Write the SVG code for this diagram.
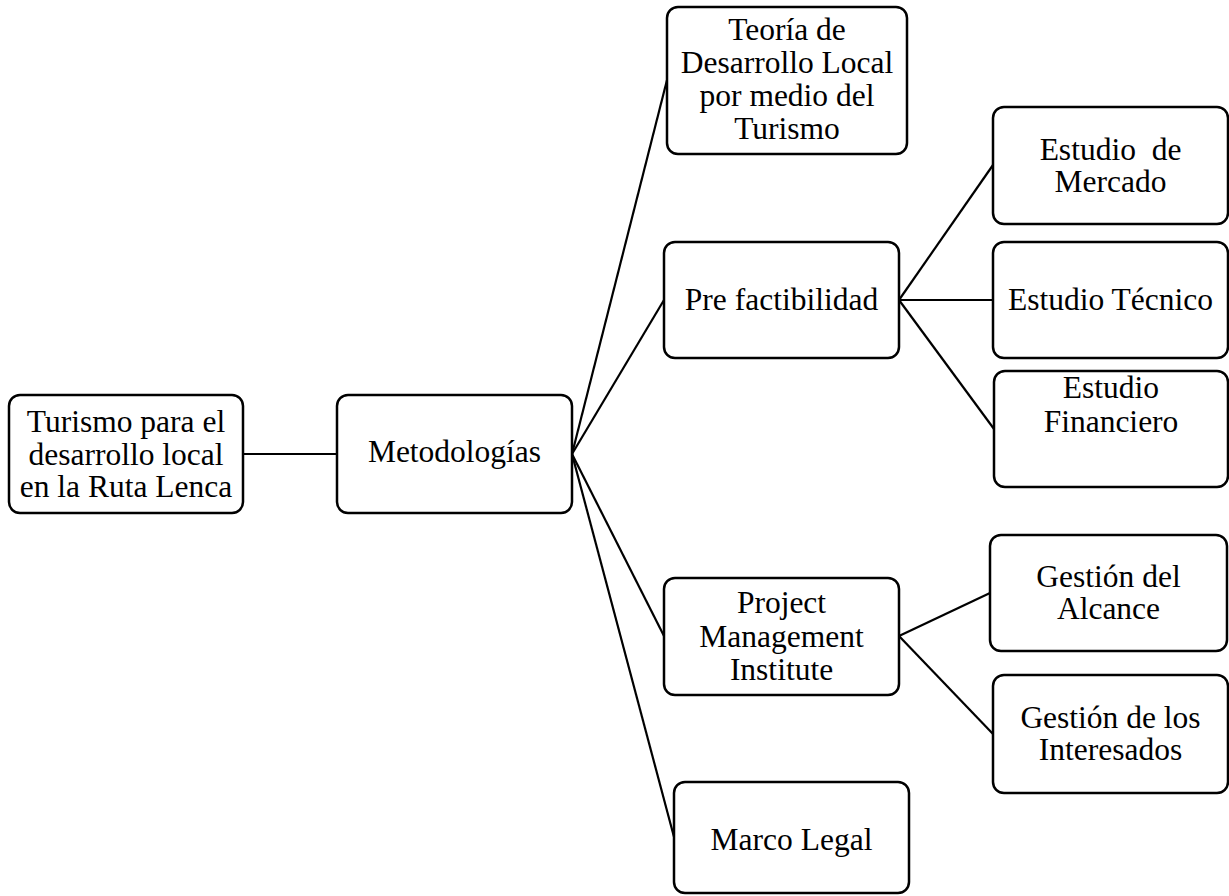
<svg xmlns="http://www.w3.org/2000/svg" width="1229" height="896" viewBox="0 0 1229 896">
<style>
.box{fill:#fff;stroke:#000;stroke-width:2.5}
.lbl{font-family:"Liberation Serif","Times New Roman",serif;font-size:31.5px;fill:#000;text-anchor:middle;white-space:pre}
.conn line{stroke:#000;stroke-width:2.2}
</style>
<rect width="1229" height="896" fill="#fff"/>
<g id="connectors" class="conn">
<line x1="243" y1="454" x2="337" y2="454"/>
<line x1="572" y1="454" x2="667" y2="80"/>
<line x1="572" y1="454" x2="664" y2="300"/>
<line x1="572" y1="454" x2="664" y2="636"/>
<line x1="572" y1="454" x2="674" y2="837"/>
<line x1="899" y1="300" x2="993" y2="165"/>
<line x1="899" y1="300" x2="993" y2="300"/>
<line x1="899" y1="300" x2="994" y2="429"/>
<line x1="899" y1="636" x2="990" y2="593"/>
<line x1="899" y1="636" x2="993" y2="734"/>
</g>
<g id="n-turismo">
<rect class="box" x="9" y="395" width="234" height="118" rx="11"/>
<text class="lbl"><tspan x="126" y="432">Turismo para el</tspan><tspan x="126" y="464.5">desarrollo local</tspan><tspan x="126" y="497">en la Ruta Lenca</tspan></text>
</g>
<g id="n-metodologias">
<rect class="box" x="337" y="395" width="235" height="118" rx="11"/>
<text class="lbl" x="454.5" y="462">Metodologías</text>
</g>
<g id="n-teoria">
<rect class="box" x="667" y="7" width="240" height="147" rx="11"/>
<text class="lbl"><tspan x="787" y="40">Teoría de</tspan><tspan x="787" y="73">Desarrollo Local</tspan><tspan x="787" y="106">por medio del</tspan><tspan x="787" y="138.5">Turismo</tspan></text>
</g>
<g id="n-prefact">
<rect class="box" x="664" y="242" width="235" height="116" rx="11"/>
<text class="lbl" x="781.5" y="310">Pre factibilidad</text>
</g>
<g id="n-mercado">
<rect class="box" x="993" y="107" width="235" height="117" rx="11"/>
<text class="lbl"><tspan x="1110.5" y="160">Estudio  de</tspan><tspan x="1110.5" y="192">Mercado</tspan></text>
</g>
<g id="n-tecnico">
<rect class="box" x="993" y="242" width="235" height="116" rx="11"/>
<text class="lbl" x="1110.5" y="310">Estudio Técnico</text>
</g>
<g id="n-financiero">
<rect class="box" x="994" y="371" width="234" height="116" rx="11"/>
<text class="lbl"><tspan x="1111" y="398">Estudio</tspan><tspan x="1111" y="432">Financiero</tspan></text>
</g>
<g id="n-pmi">
<rect class="box" x="664" y="578" width="235" height="117" rx="11"/>
<text class="lbl"><tspan x="781.5" y="613">Project</tspan><tspan x="781.5" y="647">Management</tspan><tspan x="781.5" y="680">Institute</tspan></text>
</g>
<g id="n-alcance">
<rect class="box" x="990" y="535" width="237" height="116" rx="11"/>
<text class="lbl"><tspan x="1108.5" y="587">Gestión del</tspan><tspan x="1108.5" y="619">Alcance</tspan></text>
</g>
<g id="n-interesados">
<rect class="box" x="993" y="675" width="235" height="118" rx="11"/>
<text class="lbl"><tspan x="1110.5" y="728">Gestión de los</tspan><tspan x="1110.5" y="760">Interesados</tspan></text>
</g>
<g id="n-marco">
<rect class="box" x="674" y="782" width="235" height="111" rx="11"/>
<text class="lbl" x="791.5" y="850">Marco Legal</text>
</g>
</svg>
